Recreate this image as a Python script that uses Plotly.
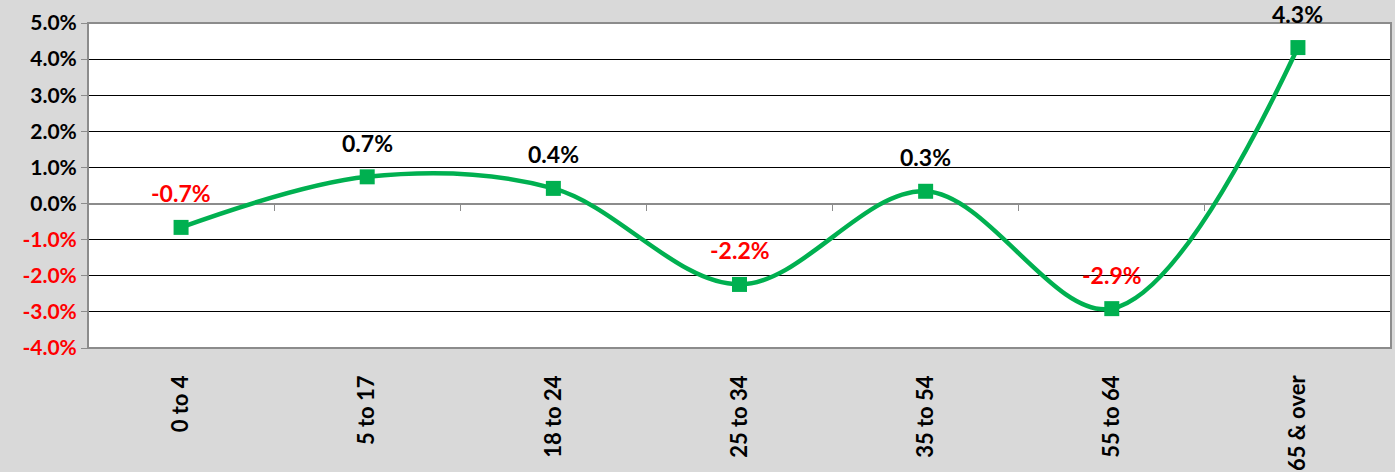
import plotly.graph_objects as go

categories = ["0 to 4", "5 to 17", "18 to 24", "25 to 34", "35 to 54", "55 to 64", "65 & over"]
values = [-0.66, 0.74, 0.42, -2.24, 0.34, -2.91, 4.32]
y_ticks = [-4, -3, -2, -1, 0, 1, 2, 3, 4, 5]

GREEN = "#00b050"
FONT = "Lato"
Y_MIN, Y_MAX = -4, 5

tick_text = [
    (f"<span style='color:#ff0000'>{v:.1f}%</span>" if v < 0 else f"{v:.1f}%")
    for v in y_ticks
]

fig = go.Figure()
fig.add_trace(go.Scatter(
    x=categories, y=values, mode="lines+markers",
    line=dict(color=GREEN, width=4.5, shape="spline", smoothing=1.0),
    marker=dict(symbol="square", size=15, color=GREEN),
    hoverinfo="skip", showlegend=False,
))
# invisible trace to host the zero-crossing tick axis
fig.add_trace(go.Scatter(
    x=categories, y=values, xaxis="x2", mode="lines",
    line=dict(width=0), opacity=0, hoverinfo="skip", showlegend=False,
))

for c, v in zip(categories, values):
    fig.add_annotation(
        x=c, y=v, text=f"{v:.1f}%", showarrow=False, yshift=34,
        font=dict(family=FONT, size=23, weight="bold",
                  color="#ff0000" if v < 0 else "#000000"),
    )

fig.add_shape(type="rect", xref="paper", yref="paper", x0=0, x1=1, y0=0, y1=1,
              line=dict(color="#8c8c8c", width=2), layer="above")

fig.update_layout(
    width=1395, height=472,
    margin=dict(l=88, r=4, t=23, b=124, autoexpand=False),
    paper_bgcolor="#d9d9d9", plot_bgcolor="#ffffff",
    font=dict(family=FONT, size=20, color="#000000", weight="bold"),
    xaxis=dict(
        type="category", range=[-0.5, len(categories) - 0.5],
        showgrid=False, showline=False, ticks="", tickangle=-90,
        tickfont=dict(family=FONT, size=22, color="#000000", weight="bold"),
        ticklabelstandoff=22, zeroline=False, automargin=False,
    ),
    xaxis2=dict(
        type="category", overlaying="x", matches="x", anchor="free",
        position=(0 - Y_MIN) / (Y_MAX - Y_MIN),
        showgrid=False, showline=False, showticklabels=False,
        ticks="outside", ticklen=6, tickwidth=1, tickcolor="#8c8c8c",
        tickson="boundaries", automargin=False,
    ),
    yaxis=dict(
        range=[Y_MIN, Y_MAX], tickvals=y_ticks, ticktext=tick_text,
        showgrid=True, gridcolor="#000000", gridwidth=1,
        zeroline=True, zerolinecolor="#8c8c8c", zerolinewidth=2,
        ticks="outside", ticklen=6, tickcolor="#8c8c8c",
        tickfont=dict(family=FONT, size=21, color="#000000", weight="bold"),
        showline=False, automargin=False,
    ),
)

fig.write_html(
    "out.html",
    config={"displayModeBar": False},
    post_script="document.body.style.margin='0';document.body.style.background='#d9d9d9';",
)
